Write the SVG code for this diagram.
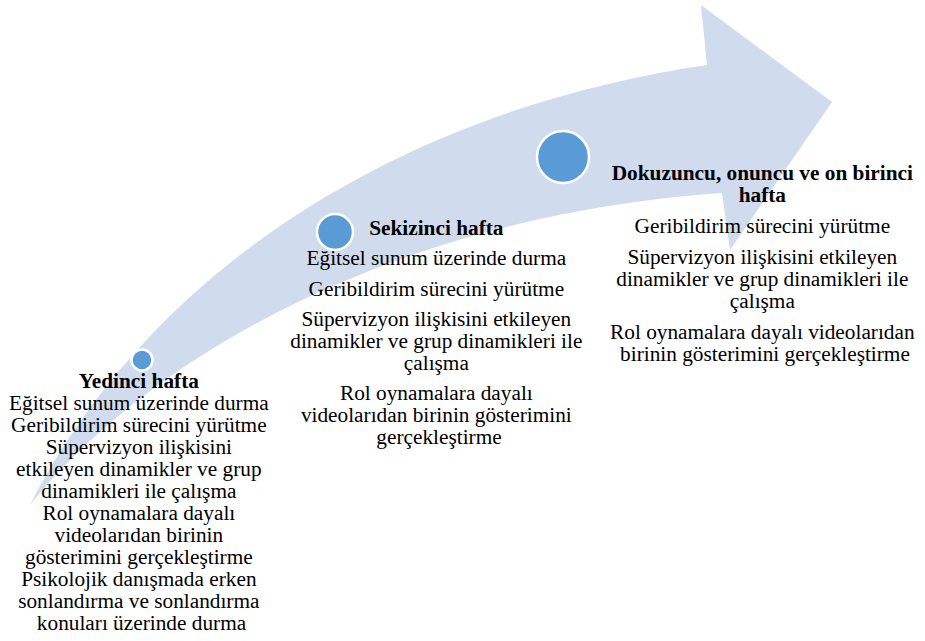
<svg xmlns="http://www.w3.org/2000/svg" width="925" height="641" viewBox="0 0 925 641">
<style>
.t{font-family:'Liberation Serif','Times New Roman',serif;font-size:21.3px;fill:#000;text-anchor:middle}
.b{font-weight:bold}
.dot{fill:#5B9BD5;stroke:#fff;stroke-width:2.5}
</style>
<rect width="925" height="641" fill="#fff"/>
<g id="arrow">
<path d="M30,505 C150,270 400,110 707,65 L701,5 L832,102 L730,250 L722,193 C400,215 150,355 30,505 Z" fill="#D0DCEE"/>
</g>
<g id="node-yedinci">
<circle class="dot" cx="142" cy="360" r="10.5"/>
<text class="t" x="141.5" y="388"><tspan class="b">Yedinci hafta</tspan>
<tspan x="141.5" y="410">Eğitsel sunum üzerinde durma</tspan>
<tspan x="141.5" y="432">Geribildirim sürecini yürütme</tspan>
<tspan x="141.5" y="454">Süpervizyon ilişkisini</tspan>
<tspan x="141.5" y="476">etkileyen dinamikler ve grup</tspan>
<tspan x="141.5" y="498">dinamikleri ile çalışma</tspan>
<tspan x="141.5" y="520">Rol oynamalara dayalı</tspan>
<tspan x="141.5" y="542">videolarıdan birinin</tspan>
<tspan x="141.5" y="564">gösterimini gerçekleştirme</tspan>
<tspan x="141.5" y="586">Psikolojik danışmada erken</tspan>
<tspan x="141.5" y="608">sonlandırma ve sonlandırma</tspan>
<tspan x="141.5" y="630">konuları üzerinde durma</tspan></text>
</g>
<g id="node-sekizinci">
<circle class="dot" cx="335" cy="232" r="18"/>
<text class="t" x="439" y="235"><tspan class="b">Sekizinci hafta</tspan>
<tspan x="439" y="265">Eğitsel sunum üzerinde durma</tspan>
<tspan x="439" y="296">Geribildirim sürecini yürütme</tspan>
<tspan x="439" y="326">Süpervizyon ilişkisini etkileyen</tspan>
<tspan x="439" y="348">dinamikler ve grup dinamikleri ile</tspan>
<tspan x="439" y="370">çalışma</tspan>
<tspan x="439" y="400">Rol oynamalara dayalı</tspan>
<tspan x="439" y="422">videolarıdan birinin gösterimini</tspan>
<tspan x="439" y="444">gerçekleştirme</tspan></text>
</g>
<g id="node-dokuzuncu">
<circle class="dot" cx="563" cy="157" r="26"/>
<text class="t" x="765" y="180"><tspan class="b">Dokuzuncu, onuncu ve on birinci</tspan>
<tspan class="b" x="765" y="202">hafta</tspan>
<tspan x="765" y="233">Geribildirim sürecini yürütme</tspan>
<tspan x="765" y="264">Süpervizyon ilişkisini etkileyen</tspan>
<tspan x="765" y="286">dinamikler ve grup dinamikleri ile</tspan>
<tspan x="765" y="308">çalışma</tspan>
<tspan x="765" y="339">Rol oynamalara dayalı videolarıdan</tspan>
<tspan x="765" y="361">birinin gösterimini gerçekleştirme</tspan></text>
</g>
</svg>
